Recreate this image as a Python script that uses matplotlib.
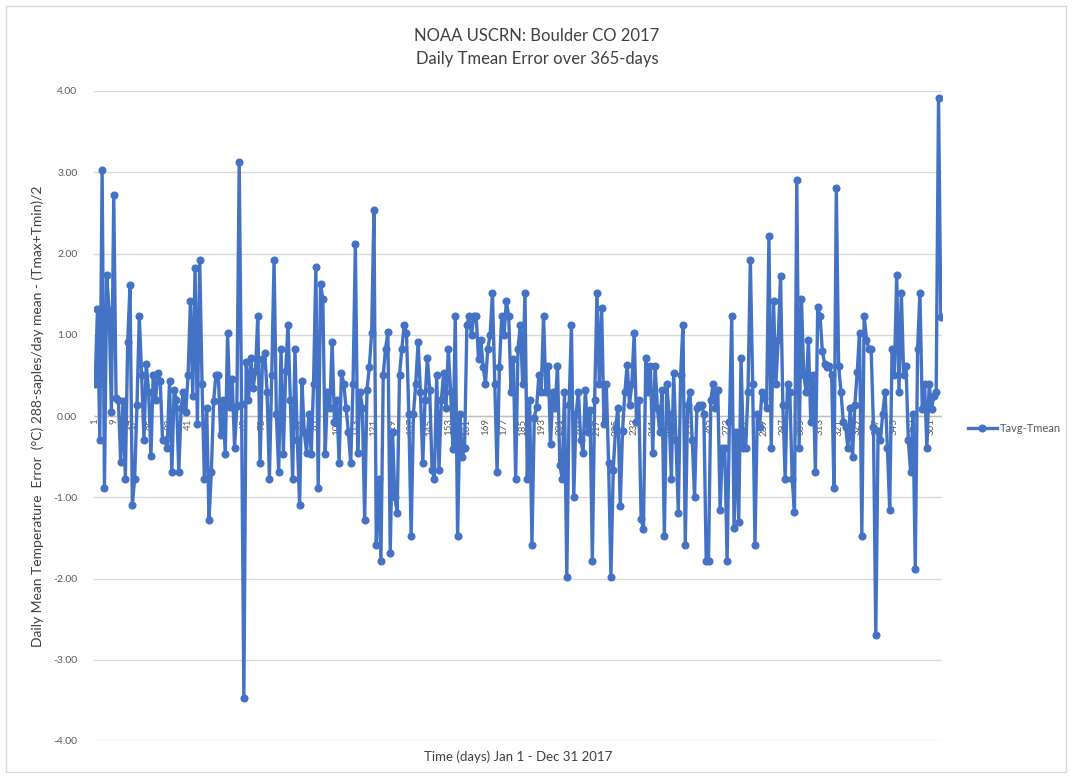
import matplotlib
matplotlib.use("Agg")
import matplotlib.pyplot as plt
from matplotlib.patches import Rectangle

title_lines = ["NOAA USCRN: Boulder CO 2017", "Daily Tmean Error over 365-days"]
y_label = "Daily Mean Temperature  Error  (\u00b0C) 288-saples/day mean - (Tmax+Tmin)/2"
x_label = "Time (days) Jan 1 - Dec 31 2017"
series_name = "Tavg-Tmean"
y_ticks = [4.0, 3.0, 2.0, 1.0, 0.0, -1.0, -2.0, -3.0, -4.0]
x_tick_days = list(range(1, 366, 8))

tavg_tmean = [
    0.40, 1.32, -0.29, 3.03, -0.88, 1.73, 1.30, 0.05, 2.72, 0.22,
    0.20, -0.57, 0.19, -0.77, 0.91, 1.61, -1.09, -0.77, 0.14, 1.23,
    0.51, -0.29, 0.64, 0.30, -0.49, 0.51, 0.20, 0.53, 0.43, -0.29,
    -0.29, -0.39, 0.43, -0.69, 0.32, 0.20, -0.69, 0.10, 0.30, 0.05,
    0.51, 1.41, 0.25, 1.82, -0.10, 1.92, 0.40, -0.77, 0.10, -1.28,
    -0.69, 0.19, 0.51, 0.51, -0.23, 0.20, -0.47, 1.02, 0.11, 0.45,
    -0.39, 0.12, 3.13, 0.15, -3.47, 0.67, 0.20, 0.72, 0.35, 0.55,
    1.23, -0.58, 0.70, 0.78, 0.30, -0.77, 0.50, 1.92, 0.03, -0.69,
    0.83, -0.47, 0.55, 1.12, 0.20, -0.77, 0.83, -0.30, -1.09, 0.43,
    -0.20, -0.45, 0.03, -0.47, 0.40, 1.83, -0.89, 1.63, 1.44, -0.47,
    0.30, 0.10, 0.91, -0.07, 0.20, -0.58, 0.53, 0.40, 0.10, -0.20,
    -0.58, 0.40, 2.12, -0.45, 0.30, 0.10, -1.28, 0.32, 0.60, 1.02,
    2.53, -1.59, -0.77, -1.78, 0.51, 0.83, 1.03, -1.68, -0.20, -1.00,
    -1.19, 0.50, 0.83, 1.12, 1.02, 0.03, -1.48, 0.03, 0.40, 0.91,
    0.30, -0.58, 0.20, 0.72, 0.32, -0.66, -0.77, 0.51, -0.66, 0.20,
    0.53, 0.10, 0.82, 0.30, -0.40, 1.23, -1.48, 0.03, -0.50, -0.39,
    1.12, 1.23, 1.00, 1.23, 1.23, 0.70, 0.94, 0.60, 0.40, 0.83,
    1.00, 1.52, 0.40, -0.69, 0.60, 1.23, 1.00, 1.41, 1.23, 0.30,
    0.70, -0.77, 0.83, 1.12, 0.40, 1.52, -0.77, 0.20, -1.59, -0.02,
    0.11, 0.50, 0.30, 1.23, 0.30, 0.62, -0.34, 0.30, 0.10, 0.62,
    -0.60, -0.77, 0.30, -1.98, 0.14, 1.12, -1.00, 0.03, 0.30, -0.29,
    -0.45, 0.32, -0.20, 0.08, -1.78, 0.20, 1.52, 0.40, 1.33, -0.10,
    0.40, -0.58, -1.98, -0.66, -0.15, 0.10, -1.11, -0.18, 0.30, 0.63,
    0.14, 0.40, 1.02, -0.07, 0.20, -1.27, -1.39, 0.72, 0.30, 0.62,
    -0.45, 0.62, 0.10, -0.20, 0.32, -1.48, 0.40, 0.03, -0.77, 0.53,
    -0.30, -1.19, 0.50, 1.12, -1.59, 0.14, 0.30, -0.30, -1.00, 0.10,
    0.14, 0.14, 0.03, -1.78, -1.78, 0.20, 0.40, 0.10, 0.32, -1.16,
    -0.39, -0.39, -1.78, -0.07, 1.23, -1.38, -0.20, -1.30, 0.72, -0.39,
    -0.39, 0.30, 1.92, 0.40, -1.59, 0.03, -0.13, 0.30, 0.22, 0.10,
    2.21, -0.39, 1.41, 0.40, 0.94, 1.72, 0.14, -0.77, 0.40, 0.30,
    -0.77, -1.18, 2.91, -0.39, 1.44, 0.51, 0.30, 0.94, -0.07, 0.50,
    -0.69, 1.34, 1.23, 0.80, 0.64, 0.60, 0.62, 0.51, -0.89, 2.81,
    0.62, 0.30, -0.07, -0.13, -0.39, 0.10, -0.50, 0.14, 0.54, 1.02,
    -1.48, 1.23, 0.94, 0.83, 0.83, -0.13, -2.69, -0.18, -0.29, 0.03,
    0.30, -0.39, -1.16, 0.83, 0.51, 1.73, 0.30, 1.52, 0.51, 0.62,
    -0.30, -0.69, 0.03, -1.88, 0.83, 1.52, 0.09, 0.40, -0.39, 0.40,
    0.09, 0.25, 0.30, 3.92, 1.22,
]
days = list(range(1, len(tavg_tmean) + 1))

plt.rcParams['font.family'] = ['Lato', 'DejaVu Sans']
W, H = 1072, 778
fig = plt.figure(figsize=(W / 100, H / 100), dpi=100)
fig.patch.set_facecolor('white')
fig.add_artist(Rectangle((6 / W, 6 / H), 1 - 12 / W, 1 - 12 / H, transform=fig.transFigure,
                         fill=False, edgecolor='#d9d9d9', linewidth=1))

ax = fig.add_axes([94 / W, 1 - 741 / H, (942 - 94) / W, (741 - 91) / H])
ax.set_facecolor('white')
blue = '#4472C4'
line, = ax.plot(days, tavg_tmean, color=blue, linewidth=2.4, marker='o', markersize=4.8,
                markeredgecolor=blue, markerfacecolor=blue, label=series_name, zorder=3)

ax.set_xlim(0.5, len(days) + 0.5)
ax.set_ylim(-4.0, 4.0)
ax.set_yticks(y_ticks)
ax.set_yticklabels([f"{v:.2f}" for v in y_ticks], fontsize=7.5, color='#595959')
ax.tick_params(axis='y', length=0, pad=12)
ax.grid(axis='y', color='#d9d9d9', linewidth=1)
ax.set_axisbelow(True)
for s in ax.spines.values():
    s.set_visible(False)
ax.axhline(0, color='#bfbfbf', linewidth=1, zorder=1)
ax.set_xticks([])

for d in x_tick_days:
    ax.text(d, -0.03, str(d), rotation=90, ha='center', va='top', fontsize=7,
            color='#595959', zorder=2)

fig.text(537 / W, 1 - 36 / H, title_lines[0], ha='center', va='center', fontsize=12, color='#404040')
fig.text(537 / W, 1 - 59 / H, title_lines[1], ha='center', va='center', fontsize=12, color='#404040')
fig.text(38 / W, 1 - 416 / H, y_label, rotation=90, ha='center', va='center', fontsize=10, color='#404040')
fig.text(518 / W, 1 - 757 / H, x_label, ha='center', va='center', fontsize=9.5, color='#404040')

fig.legend(handles=[line], labels=[series_name], loc='center left',
           bbox_to_anchor=(958 / W, 1 - 428 / H), frameon=False, fontsize=8,
           labelcolor='#595959', handlelength=2.6, handletextpad=0.3)

fig.savefig('out.png', dpi=100, facecolor='white')
